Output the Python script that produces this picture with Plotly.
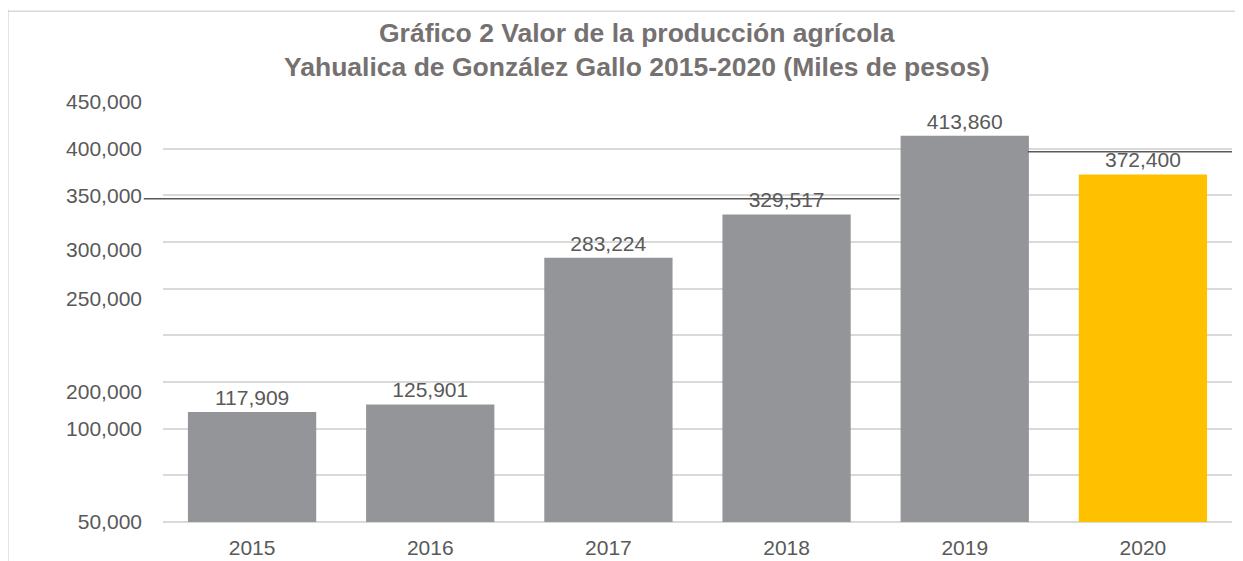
import plotly.graph_objects as go

# ---- data ----
YEARS = ["2015", "2016", "2017", "2018", "2019", "2020"]
VALUES = [117909, 125901, 283224, 329517, 413860, 372400]
BAR_COLORS = ["#939598", "#939598", "#939598", "#939598", "#939598", "#FFC000"]
VALUE_LABELS = ["117,909", "125,901", "283,224", "329,517", "413,860", "372,400"]

# y-axis labels as they appear in the (distorted) source picture
Y_LABEL_VALUES = [0, 100000, 139800, 239500, 292000, 350000, 400000, 450000]
Y_LABEL_TEXT = ["50,000", "100,000", "200,000", "250,000", "300,000",
                "350,000", "400,000", "450,000"]

TITLE_1 = "Gráfico 2 Valor de la producción agrícola"
TITLE_2 = "Yahualica de González Gallo 2015-2020 (Miles de pesos)"

FONT = "Liberation Sans, Arial, sans-serif"
TXT = "#595959"

fig = go.Figure()
fig.add_trace(go.Bar(
    x=YEARS, y=VALUES, marker=dict(color=BAR_COLORS, line=dict(width=0)),
    text=VALUE_LABELS, textposition="outside", cliponaxis=False,
    textfont=dict(family=FONT, size=21, color=TXT),
    showlegend=False, hoverinfo="x+y",
))
# helper trace so the label axis is drawn
fig.add_trace(go.Scatter(x=[YEARS[0]], y=[None], yaxis="y2", mode="markers",
                         showlegend=False, hoverinfo="skip"))

fig.update_layout(
    width=1235, height=553,
    margin=dict(l=155, r=11, t=94, b=38.5),
    paper_bgcolor="white", plot_bgcolor="white",
    bargap=0.28,
    font=dict(family=FONT, color=TXT),
    xaxis=dict(type="category", showgrid=False, showline=False, ticks="",
               automargin=False,
               tickfont=dict(family=FONT, size=21, color=TXT),
               ticklabelstandoff=11),
    yaxis=dict(range=[0, 450000], dtick=50000, showticklabels=False,
               automargin=False,
               showgrid=True, gridcolor="#d9d9d9", gridwidth=1.5,
               zeroline=True, zerolinecolor="#d9d9d9", zerolinewidth=1.5,
               showline=False, ticks=""),
    yaxis2=dict(range=[0, 450000], overlaying="y", side="left", anchor="x",
                automargin=False,
                tickmode="array", tickvals=Y_LABEL_VALUES, ticktext=Y_LABEL_TEXT,
                showgrid=False, zeroline=False, showline=False, ticks="",
                ticklabelstandoff=20,
                tickfont=dict(family=FONT, size=21, color=TXT)),
)

# title (two lines)
for txt, yy in [(TITLE_1, 1.164), (TITLE_2, 1.083)]:
    fig.add_annotation(text="<b>" + txt + "</b>", xref="paper", yref="paper",
                       x=0.443, y=yy, showarrow=False, xanchor="center",
                       yanchor="middle",
                       font=dict(family=FONT, size=26.5, color="#767171"))

# stray dark rules present in the source image
fig.add_shape(type="line", xref="paper", yref="y", x0=-0.018, x1=0.689,
              y0=346400, y1=346400, line=dict(color="#595959", width=1.5))
fig.add_shape(type="line", xref="paper", yref="y", x0=0.809, x1=1.0,
              y0=396700, y1=396700, line=dict(color="#595959", width=1.5))
# chart-area border (left and top)
fig.add_shape(type="line", xref="paper", yref="paper", x0=-0.145, x1=-0.145,
              y0=-0.1, y1=1.22, line=dict(color="#d9d9d9", width=1.5))
fig.add_shape(type="line", xref="paper", yref="paper", x0=-0.145, x1=1.02,
              y0=1.216, y1=1.216, line=dict(color="#d9d9d9", width=1.5))

fig.write_html("out.html")
